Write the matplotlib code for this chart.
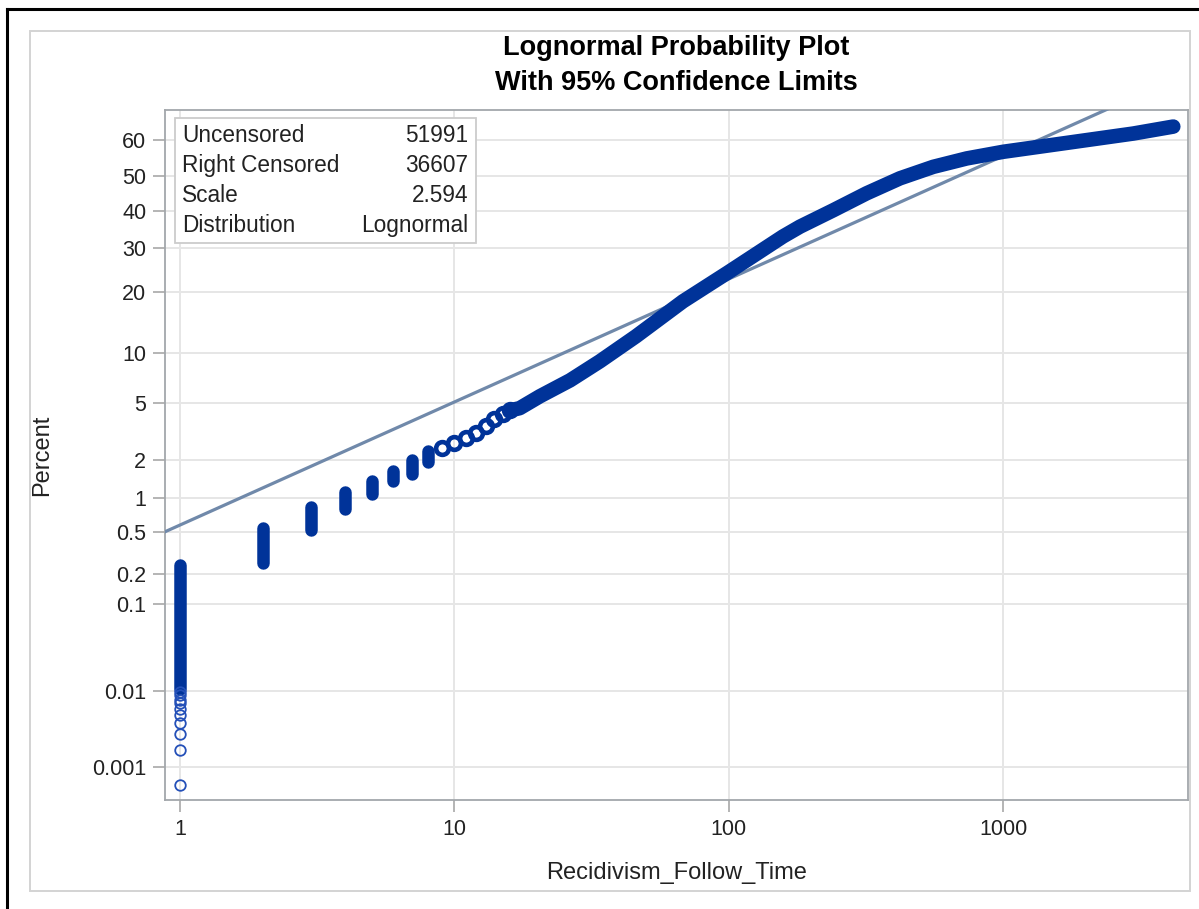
import numpy as np
import matplotlib
matplotlib.use("Agg")
import matplotlib.pyplot as plt
from matplotlib.patches import Rectangle
from matplotlib.lines import Line2D
from matplotlib.ticker import FixedLocator, FixedFormatter, NullLocator
from statistics import NormalDist

# stacked (tied) observations at small follow times: percent range of each stack
step_time = [1, 2, 3, 4, 5, 6, 7, 8]
step_lo = [0.0105, 0.258, 0.525, 0.80, 1.07, 1.38, 1.57, 1.94]
step_hi = [0.249, 0.546, 0.842, 1.11, 1.38, 1.64, 2.01, 2.35]

# lowest single observations at time 1
low_pct = [0.00055, 0.0017, 0.0028, 0.0039, 0.005, 0.006, 0.007, 0.0078, 0.0088, 0.0097]

# short stacks that still show as rings
ring_time = [9, 10, 11, 12, 13, 14, 15, 16]
ring_pct = [2.45, 2.69, 2.92, 3.17, 3.55, 3.93, 4.24, 4.51]

# dense part of the empirical curve
curve_time = [16, 17.3, 20.5, 26.4, 33.9, 45.9, 68.1, 99.3, 157.6, 181.7, 240.3,
              318.1, 420.7, 556.3, 736.2, 1001, 1703, 2979, 4168]
curve_pct = [4.51, 4.66, 5.56, 6.97, 9.0, 12.3, 18.2, 24.2, 33.0, 35.6, 40.1,
             44.9, 49.2, 52.5, 54.9, 56.8, 59.3, 61.9, 63.8]

# fitted lognormal line (end points)
fit_time = [0.8, 5000]
fit_pct = [0.455, 77.7]

legend_rows = [("Uncensored", "51991"), ("Right Censored", "36607"),
               ("Scale", "2.594"), ("Distribution", "Lognormal")]

y_ticks = [0.001, 0.01, 0.1, 0.2, 0.5, 1, 2, 5, 10, 20, 30, 40, 50, 60]
y_labels = ["0.001", "0.01", "0.1", "0.2", "0.5", "1", "2", "5", "10", "20", "30", "40", "50", "60"]
x_ticks = [1, 10, 100, 1000]
x_labels = ["1", "10", "100", "1000"]

nd = NormalDist()
_ppf = np.vectorize(nd.inv_cdf, otypes=[float])
_cdf = np.vectorize(nd.cdf, otypes=[float])


def pct_to_z(p):
    p = np.clip(np.asarray(p, dtype=float) / 100.0, 1e-12, 1 - 1e-12)
    return _ppf(p)


def z_to_pct(z):
    return _cdf(np.asarray(z, dtype=float)) * 100.0


plt.rcParams['font.family'] = ['Liberation Sans', 'DejaVu Sans']

W, H = 1199, 909
fig = plt.figure(figsize=(W / 100, H / 100), dpi=100)
ax = fig.add_axes([165 / W, 1 - 800 / H, (1188 - 165) / W, (800 - 110) / H])

blue = '#003399'
ax.set_xscale('log')
ax.set_yscale('function', functions=(pct_to_z, z_to_pct))
ax.set_xlim(0.882, 4716)
ax.set_ylim(0.00033, 68.18)

ax.plot(fit_time, fit_pct, color='#7089aa', lw=2.3, zorder=3)

ax.vlines(step_time, step_lo, step_hi, color=blue, lw=9, capstyle='round', zorder=4)
ax.plot([1] * len(low_pct), low_pct, 'o', ms=7.6, mfc='none', mec='#2450b8', mew=1.3, zorder=4)
ax.plot(ring_time, ring_pct, 'o', ms=9.2, mfc='none', mec=blue, mew=3.3, zorder=4)
ax.plot(curve_time, curve_pct, color=blue, lw=10.5, solid_capstyle='round',
        solid_joinstyle='round', zorder=4)

ax.xaxis.set_major_locator(FixedLocator(x_ticks))
ax.xaxis.set_major_formatter(FixedFormatter(x_labels))
ax.xaxis.set_minor_locator(NullLocator())
ax.yaxis.set_major_locator(FixedLocator(y_ticks))
ax.yaxis.set_major_formatter(FixedFormatter(y_labels))
ax.yaxis.set_minor_locator(NullLocator())

ax.grid(True, color='#e6e6e6', lw=1.4)
ax.set_axisbelow(True)
for s in ax.spines.values():
    s.set_color('#a3a7ab')
    s.set_linewidth(1.3)
ax.tick_params(length=8.5, width=1.1, color='#a0a0a0', labelsize=15.5, pad=5,
               labelcolor='#222222')

# inset statistics box
ax.add_patch(Rectangle((10 / 1023, (800 - 243) / 690), (476 - 175) / 1023, (243 - 118) / 690,
                       transform=ax.transAxes, facecolor='white', edgecolor='#cccccc',
                       lw=1.3, zorder=6))
for i, (name, val) in enumerate(legend_rows):
    yy = (800 - (135 + 30.3 * i)) / 690
    ax.text(17 / 1023, yy, name, transform=ax.transAxes, fontsize=16.3,
            ha='left', va='center', color='#222222', zorder=7)
    ax.text(303 / 1023, yy, val, transform=ax.transAxes, fontsize=16.3,
            ha='right', va='center', color='#222222', zorder=7)

fig.text(676 / W, 1 - 48 / H, "Lognormal Probability Plot", fontsize=19.5,
         fontweight='bold', ha='center', va='center')
fig.text(676 / W, 1 - 83 / H, "With 95% Confidence Limits", fontsize=19.5,
         fontweight='bold', ha='center', va='center')
fig.text(677 / W, 1 - 873 / H, "Recidivism_Follow_Time", fontsize=17,
         ha='center', va='center', color='#222222')
fig.text(42 / W, 1 - 455 / H, "Percent", fontsize=17, rotation=90,
         ha='center', va='center', color='#222222')

# frames around the graph
fig.patches.append(Rectangle((30 / W, 1 - 891 / H), (1190 - 30) / W, (891 - 31) / H,
                             transform=fig.transFigure, fill=False,
                             edgecolor='#d3d3d3', lw=1.4))
fig.lines.append(Line2D([7 / W, 1], [1 - 9 / H, 1 - 9 / H], transform=fig.transFigure,
                        color='black', lw=2.2))
fig.lines.append(Line2D([7 / W, 7 / W], [0, 1 - 9 / H], transform=fig.transFigure,
                        color='black', lw=2.2))

fig.savefig('out.png', dpi=100)
